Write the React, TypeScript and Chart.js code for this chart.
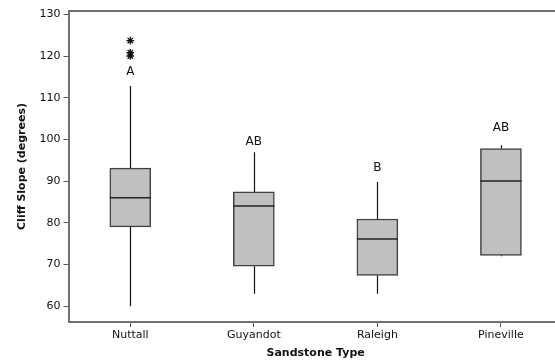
import React, { useEffect, useRef } from "react";
import { Chart, registerables } from "chart.js";

Chart.register(...registerables);

const categories = ["Nuttall", "Guyandot", "Raleigh", "Pineville"];
const whiskerLow = [60, 63, 63, 72];
const q1 = [79, 69.6, 67.4, 72.2];
const median = [86, 84, 76.1, 90];
const q3 = [93.1, 87.4, 80.9, 97.8];
const whiskerHigh = [112.8, 96.9, 89.8, 98.6];
const outlierCategory = ["Nuttall", "Nuttall", "Nuttall"];
const outlierValues = [123.7, 120.8, 120];
const groupLetters = ["A", "AB", "B", "AB"];
const letterValues = [116.2, 99.4, 93.1, 102.8];
const yTicks = [60, 70, 80, 90, 100, 110, 120, 130];

const AXIS = "#707070";
const FONT = "'DejaVu Sans', Verdana, sans-serif";

const boxPlugin = {
  id: "boxExtras",
  beforeDatasetsDraw(chart: any) {
    const { ctx, scales, chartArea } = chart;
    const x = scales.x;
    const y = scales.y;
    ctx.save();
    ctx.strokeStyle = "#111";
    ctx.lineWidth = 1.2;
    categories.forEach((c, i) => {
      const px = Math.round(x.getPixelForValue(i)) + 0.5;
      ctx.beginPath();
      ctx.moveTo(px, y.getPixelForValue(whiskerLow[i]));
      ctx.lineTo(px, y.getPixelForValue(q1[i]));
      ctx.moveTo(px, y.getPixelForValue(q3[i]));
      ctx.lineTo(px, y.getPixelForValue(whiskerHigh[i]));
      ctx.stroke();
    });
    ctx.strokeStyle = AXIS;
    ctx.lineWidth = 2;
    ctx.beginPath();
    ctx.moveTo(chartArea.left, chartArea.top);
    ctx.lineTo(chartArea.right, chartArea.top);
    ctx.lineTo(chartArea.right, chartArea.bottom);
    ctx.stroke();
    ctx.restore();
  },
  afterDatasetsDraw(chart: any) {
    const { ctx, scales } = chart;
    const x = scales.x;
    const y = scales.y;
    ctx.save();
    categories.forEach((c, i) => {
      const px = x.getPixelForValue(i);
      const half = 20.5;
      const py = y.getPixelForValue(median[i]);
      ctx.strokeStyle = "#222";
      ctx.lineWidth = 1.5;
      ctx.beginPath();
      ctx.moveTo(px - half, py);
      ctx.lineTo(px + half, py);
      ctx.stroke();
      ctx.fillStyle = "#111";
      ctx.font = `12px ${FONT}`;
      ctx.textAlign = "center";
      ctx.textBaseline = "middle";
      ctx.fillText(groupLetters[i], px, y.getPixelForValue(letterValues[i]));
    });
    ctx.restore();
  },
};

export default function App() {
  const ref = useRef<HTMLCanvasElement>(null);
  useEffect(() => {
    if (!ref.current) return;
    const chart = new Chart(ref.current, {
      type: "bar",
      data: {
        labels: categories,
        datasets: [
          {
            type: "bar",
            data: categories.map((_, i) => [q1[i], q3[i]]) as any,
            backgroundColor: "#c0c0c0",
            borderColor: "#404040",
            borderWidth: 1.5,
            borderSkipped: false,
            barThickness: 41,
          } as any,
          {
            type: "line",
            data: outlierCategory.map((c, i) => ({ x: c, y: outlierValues[i] })) as any,
            showLine: false,
            pointStyle: "star",
            pointRadius: 3.8,
            borderColor: "#111",
            borderWidth: 1.3,
            backgroundColor: "#111",
          } as any,
        ],
      },
      options: {
        animation: false,
        responsive: false,
        maintainAspectRatio: false,
        layout: { padding: { top: 11, left: 0, right: 0, bottom: 0 } },
        plugins: { legend: { display: false }, tooltip: { enabled: false } },
        scales: {
          x: {
            offset: true,
            grid: {
              display: true,
              drawOnChartArea: false,
              drawTicks: true,
              tickLength: 5,
              color: "#555",
              offset: false,
            },
            border: { display: true, color: AXIS, width: 2 },
            ticks: { font: { family: FONT, size: 11 }, color: "#111", padding: 2, maxRotation: 0 },
            title: {
              display: true,
              text: "Sandstone Type",
              font: { family: FONT, size: 11, weight: "bold" },
              color: "#111",
              padding: { top: 0, bottom: 3.4 },
            },
            afterFit: (s: any) => {
              s.height = 41;
            },
          },
          y: {
            min: 56.2,
            max: 130.8,
            grid: { display: true, drawOnChartArea: false, drawTicks: true, tickLength: 5, color: "#555" },
            border: { display: true, color: AXIS, width: 2 },
            ticks: { font: { family: FONT, size: 11 }, color: "#111", padding: 3 },
            afterBuildTicks: (s: any) => {
              s.ticks = yTicks.map((v) => ({ value: v }));
            },
            title: {
              display: true,
              text: "Cliff Slope (degrees)",
              font: { family: FONT, size: 11, weight: "bold" },
              color: "#111",
              padding: { top: 15.4, bottom: 0 },
            },
            afterFit: (s: any) => {
              s.width = 68.5;
            },
          },
        },
      },
      plugins: [boxPlugin],
    });
    return () => chart.destroy();
  }, []);
  return (
    <div style={{ position: "absolute", left: 0, top: 0, width: 555, height: 363, overflow: "hidden", background: "#fff" }}>
      <canvas ref={ref} width={568} height={363} style={{ width: 568, height: 363, display: "block" }} />
    </div>
  );
}
